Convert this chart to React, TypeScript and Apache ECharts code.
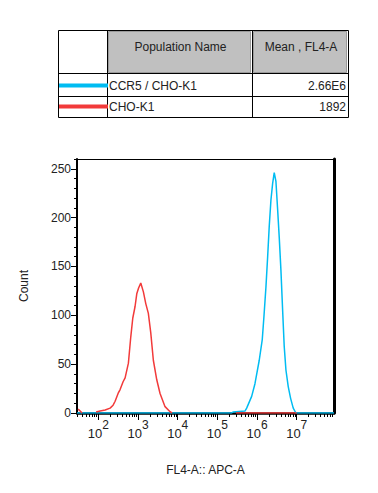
import React, { useEffect, useRef } from "react";
import * as echarts from "echarts";

// ---- data ----
const tableHeaders = ["Population Name", "Mean , FL4-A"];
const populationNames = ["CCR5 / CHO-K1", "CHO-K1"];
const meanValues = ["2.66E6", "1892"];
const populationColors = ["#00BCF2", "#F23A3A"];

// x values are log10(FL4-A), y values are counts
const ccr5Log = [1.46, 5.36, 5.393, 5.695, 5.738, 5.864, 5.947, 6.055, 6.131, 6.174, 6.224, 6.267, 6.307, 6.35, 6.393, 6.433, 6.476, 6.519, 6.559, 6.602, 6.645, 6.685, 6.728, 6.786, 6.846, 6.912, 6.98, 7.94];
const ccr5Count = [0, 0, 1, 2, 5, 17, 30, 54, 75, 99, 129, 160, 191, 218, 235, 246, 237, 208, 180, 146, 105, 68, 44, 27, 15, 5, 0, 0];

const choLog = [1.489, 1.539, 1.589, null, 1.942, 2.043, 2.169, 2.295, 2.37, 2.421, 2.496, 2.547, 2.622, 2.673, 2.756, 2.816, 2.866, 2.924, 2.967, 3.013, 3.068, 3.134, 3.194, 3.259, 3.32, 3.385, 3.471, 3.554, 3.68, 3.806, 3.856, null, 5.47, 7.0];
const choCount = [4, 2, 0, null, 1, 2, 3, 5, 8, 12, 20, 24, 32, 36, 51, 78, 97, 109, 122, 128, 133, 124, 112, 102, 82, 54, 34, 20, 6.5, 1.3, 0, null, 0, 0];

const decadeTicks = [2, 3, 4, 5, 6, 7];
const countTicks = [0, 50, 100, 150, 200, 250];
const countMinorTicks = [10, 20, 30, 40, 60, 70, 80, 90, 110, 120, 130, 140, 160, 170, 180, 190, 210, 220, 230, 240, 260];

const X_MIN = 1.46;
const X_MAX = 7.94;
const Y_MAX = 260;

const FONT = "'Liberation Sans', Arial, Helvetica, sans-serif";

function minorDecadeTicks(): number[] {
  const out: number[] = [];
  for (let n = 1; n <= 7; n++) {
    for (let k = 2; k <= 9; k++) {
      const v = n + Math.log10(k);
      if (v > X_MIN && v < X_MAX) out.push(v);
    }
  }
  return out;
}

function buildTable(): any[] {
  const L = 58, R = 348, T = 30, B = 117;
  const c1 = 107, c2 = 252;
  const h1 = 73, h2 = 96;
  const els: any[] = [];
  els.push({ type: "rect", shape: { x: L + 0.5, y: T + 0.5, width: R - L, height: B - T }, style: { fill: "#fff", stroke: "#000", lineWidth: 1 } });
  // header gray cells
  els.push({ type: "rect", shape: { x: c1 + 1.5, y: T + 1.5, width: c2 - c1 - 3, height: h1 - T - 2 }, style: { fill: "#C0C0C0", stroke: "#9A9A9A", lineWidth: 1 } });
  els.push({ type: "rect", shape: { x: c2 + 1.5, y: T + 1.5, width: R - c2 - 3, height: h1 - T - 2 }, style: { fill: "#C0C0C0", stroke: "#9A9A9A", lineWidth: 1 } });
  // grid lines
  [c1, c2].forEach((x) => els.push({ type: "line", shape: { x1: x + 0.5, y1: T, x2: x + 0.5, y2: B }, style: { stroke: "#000", lineWidth: 1 } }));
  [h1, h2].forEach((y) => els.push({ type: "line", shape: { x1: L, y1: y + 0.5, x2: R, y2: y + 0.5 }, style: { stroke: "#000", lineWidth: 1 } }));
  // header texts
  els.push({ type: "text", x: (c1 + c2) / 2 + 1, y: 47, style: { text: tableHeaders[0], font: `12px ${FONT}`, fill: "#222", align: "center", verticalAlign: "middle" } });
  els.push({ type: "text", x: (c2 + R) / 2 + 1, y: 47, style: { text: tableHeaders[1], font: `12px ${FONT}`, fill: "#222", align: "center", verticalAlign: "middle" } });
  const rowMid = [85.5, 106.5];
  populationNames.forEach((name, i) => {
    els.push({ type: "line", shape: { x1: L + 1, y1: rowMid[i], x2: c1 + 1, y2: rowMid[i] }, style: { stroke: populationColors[i], lineWidth: 4 } });
    els.push({ type: "text", x: c1 + 2, y: rowMid[i], style: { text: name, font: `12px ${FONT}`, fill: "#222", align: "left", verticalAlign: "middle" } });
    els.push({ type: "text", x: R - 2, y: rowMid[i], style: { text: meanValues[i], font: `12px ${FONT}`, fill: "#222", align: "right", verticalAlign: "middle" } });
  });
  return els;
}

export default function App() {
  const ref = useRef<HTMLDivElement>(null);
  useEffect(() => {
    document.body.style.margin = "0";
    const chart = echarts.init(ref.current!, null, { renderer: "svg" });
    const ccr5Data = ccr5Log.map((x, i) => [x, ccr5Count[i]]);
    const choData = choLog.map((x, i) => (x === null ? [null, null] : [x, choCount[i]]));
    const minor = minorDecadeTicks();
    const baseX = { type: "value", min: X_MIN, max: X_MAX, splitLine: { show: false } };
    chart.setOption({
      animation: false,
      textStyle: { fontFamily: FONT },
      grid: { left: 77, right: 44, top: 159, bottom: 80, containLabel: false },
      graphic: buildTable(),
      xAxis: [
        {
          ...baseX,
          position: "bottom",
          name: "FL4-A:: APC-A",
          nameLocation: "middle",
          nameGap: 51,
          nameTextStyle: { fontSize: 12, color: "#222", fontFamily: FONT },
          axisLine: { onZero: false, lineStyle: { color: "#000", width: 2.5 } },
          axisTick: { customValues: decadeTicks, length: 7, lineStyle: { color: "#000", width: 1 } },
          axisLabel: {
            customValues: decadeTicks,
            margin: 12,
            formatter: (v: number) => `{b|10}{s|${Math.round(v)}}`,
            rich: {
              b: { fontSize: 13, color: "#222", fontFamily: FONT, verticalAlign: "bottom", lineHeight: 15 },
              s: { fontSize: 12, color: "#222", fontFamily: FONT, verticalAlign: "bottom", lineHeight: 14, padding: [0, 0, 9, 0] },
            },
          },
        },
        {
          ...baseX,
          position: "bottom",
          axisLine: { show: false },
          axisTick: { customValues: minor, length: 4, lineStyle: { color: "#000", width: 1 } },
          axisLabel: { show: false },
        },
        {
          ...baseX,
          position: "top",
          axisLine: { onZero: false, lineStyle: { color: "#000", width: 1 } },
          axisTick: { show: false },
          axisLabel: { show: false },
        },
      ],
      yAxis: [
        {
          type: "value",
          min: 0,
          max: Y_MAX,
          position: "left",
          splitLine: { show: false },
          name: "Count",
          nameLocation: "middle",
          nameGap: 47,
          nameTextStyle: { fontSize: 12, color: "#222", fontFamily: FONT },
          axisLine: { show: true, onZero: false, lineStyle: { color: "#000", width: 2 } },
          axisTick: { customValues: countTicks, length: 6, lineStyle: { color: "#000", width: 1 } },
          axisLabel: { customValues: countTicks, margin: 6, fontSize: 12, color: "#222", fontFamily: FONT },
        },
        {
          type: "value",
          min: 0,
          max: Y_MAX,
          position: "left",
          splitLine: { show: false },
          axisLine: { show: false },
          axisTick: { customValues: countMinorTicks, length: 3, lineStyle: { color: "#000", width: 1 } },
          axisLabel: { show: false },
        },
        {
          type: "value",
          min: 0,
          max: Y_MAX,
          position: "right",
          splitLine: { show: false },
          axisLine: { show: true, onZero: false, lineStyle: { color: "#000", width: 3 } },
          axisTick: { show: false },
          axisLabel: { show: false },
        },
      ],
      series: [
        {
          type: "line",
          name: populationNames[0],
          data: ccr5Data,
          showSymbol: false,
          xAxisIndex: 0,
          yAxisIndex: 0,
          z: 2,
          lineStyle: { color: populationColors[0], width: 1.5 },
          itemStyle: { color: populationColors[0] },
        },
        {
          type: "line",
          name: populationNames[1],
          data: choData,
          showSymbol: false,
          connectNulls: false,
          xAxisIndex: 0,
          yAxisIndex: 0,
          z: 3,
          lineStyle: { color: populationColors[1], width: 1.5 },
          itemStyle: { color: populationColors[1] },
        },
      ],
    });
    return () => chart.dispose();
  }, []);
  return <div ref={ref} style={{ width: 378, height: 493 }} />;
}
